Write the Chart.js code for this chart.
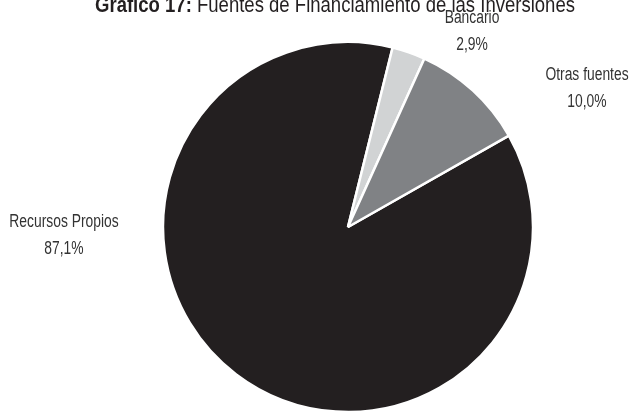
<!DOCTYPE html>
<html>
<head>
<meta charset="utf-8">
<script src="https://cdn.jsdelivr.net/npm/chart.js@4"></script>
<style>
  html, body { margin: 0; padding: 0; background: #ffffff; }
  #wrap { width: 631px; height: 412px; position: relative; }
</style>
</head>
<body>
<div id="wrap"><canvas id="c" width="631" height="412"></canvas></div>
<script>
const titleBold = "Gráfico 17:";
const titleRest = " Fuentes de Financiamiento de las Inversiones";
const categories = ["Recursos Propios", "Bancario", "Otras fuentes"];
const shares = [87.1, 2.9, 10.0];
const shareLabels = ["87,1%", "2,9%", "10,0%"];
const sliceColors = ["#231f20", "#d1d3d4", "#808285"];

const FONT = '"Liberation Sans", Arial, sans-serif';
const NARROW = 0.77; // horizontal compression to mimic a condensed face
// label anchor centres (layout only)
const labelPos = [[64, 222], [472, 18], [587, 75]];

function narrowText(ctx, text, x, y, sx) {
  ctx.save();
  ctx.translate(x, y);
  ctx.scale(sx, 1);
  ctx.fillText(text, 0, 0);
  ctx.restore();
}

const labelPlugin = {
  id: 'outerLabels',
  afterDraw(chart) {
    const ctx = chart.ctx;
    ctx.save();
    // title (bold lead + regular rest), centred, partly clipped at top
    ctx.textBaseline = 'alphabetic';
    ctx.fillStyle = '#231f20';
    ctx.textAlign = 'left';
    ctx.font = 'bold 22px ' + FONT;
    const wb = ctx.measureText(titleBold).width;
    ctx.font = '22px ' + FONT;
    const wr = ctx.measureText(titleRest).width;
    const sx = 480 / (wb + wr);
    const x0 = 335 - 240;
    ctx.font = 'bold 22px ' + FONT;
    narrowText(ctx, titleBold, x0, 12, sx);
    ctx.font = '22px ' + FONT;
    narrowText(ctx, titleRest, x0 + wb * sx, 12, sx);
    // slice labels
    ctx.textAlign = 'center';
    ctx.textBaseline = 'middle';
    ctx.fillStyle = '#333333';
    ctx.font = '18px ' + FONT;
    categories.forEach((cat, i) => {
      const [x, y] = labelPos[i];
      narrowText(ctx, cat, x, y, NARROW);
      narrowText(ctx, shareLabels[i], x, y + 27, NARROW);
    });
    ctx.restore();
  }
};

new Chart(document.getElementById('c'), {
  type: 'pie',
  data: {
    labels: categories,
    datasets: [{
      data: shares,
      backgroundColor: sliceColors,
      borderColor: '#ffffff',
      borderWidth: 2.5
    }]
  },
  options: {
    responsive: false,
    animation: false,
    rotation: 60.4,
    radius: 185,
    layout: { padding: { left: 65, right: 0, top: 42, bottom: 0 } },
    plugins: {
      legend: { display: false },
      title: { display: false },
      tooltip: { enabled: false }
    }
  },
  plugins: [labelPlugin]
});
</script>
</body>
</html>
